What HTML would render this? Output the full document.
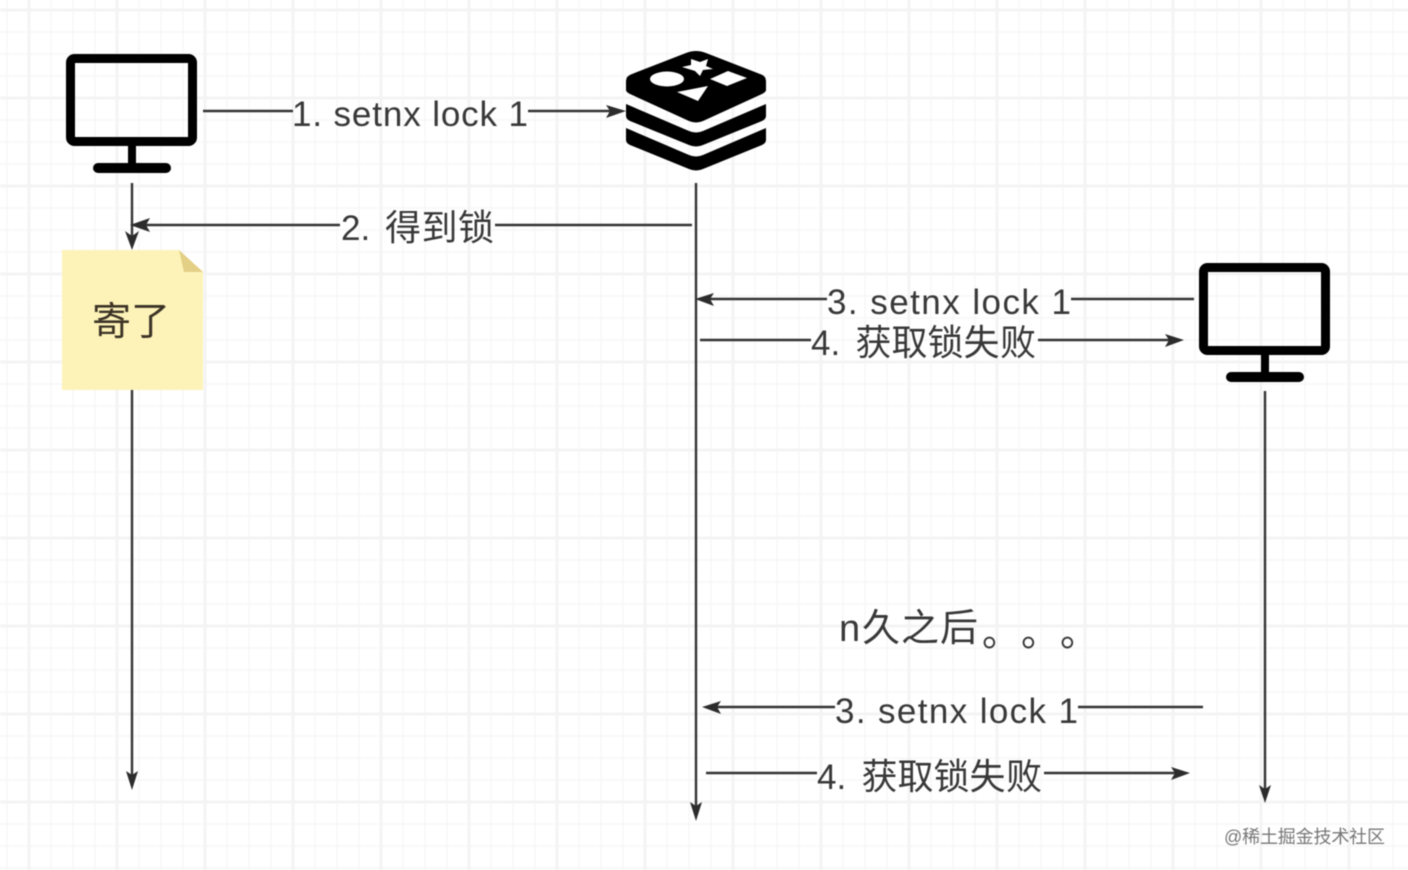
<!DOCTYPE html>
<html><head><meta charset="utf-8"><style>
html,body{margin:0;padding:0;background:#fff}
svg{display:block;filter:blur(0.45px)}
text{font-family:"Liberation Sans","Noto Sans CJK SC",sans-serif;fill:#383838}
</style></head><body>
<svg width="1408" height="870" viewBox="0 0 1408 870" xmlns="http://www.w3.org/2000/svg">
<defs>
<pattern id="minor" x="6" y="9" width="22" height="22" patternUnits="userSpaceOnUse"><path d="M1 0V22M0 1H22" stroke="#f8f8f8" stroke-width="2" fill="none"/></pattern>
<pattern id="major" x="27.5" y="8.5" width="88" height="88" patternUnits="userSpaceOnUse"><path d="M1.5 0V88M0 1.5H88" stroke="#f4f4f4" stroke-width="3" fill="none"/></pattern>
<g id="pc">
<rect x="4.5" y="4.5" width="122" height="83" rx="4" fill="none" stroke="#000" stroke-width="9"/>
<rect x="62" y="90" width="8" height="22" fill="#000"/>
<rect x="27" y="109" width="78" height="10" rx="5" fill="#000"/>
</g>
</defs>
<rect width="1408" height="870" fill="#fff"/>
<rect width="1408" height="870" fill="url(#minor)"/>
<rect width="1408" height="870" fill="url(#major)"/>

<use href="#pc" x="66" y="54"/>
<use href="#pc" x="1199" y="263"/>

<!-- redis -->
<g>
<path d="M626 128V140Q626 143 630 145L689 169Q696 172 703 169L762 145Q766 143 766 140V128L703 155Q696 158 689 155Z" fill="#000"/>
<path d="M626 104V116Q626 119 630 121L689 145Q696 148 703 145L762 121Q766 119 766 116V104L703 131Q696 134 689 131Z" fill="#000"/>
<path d="M632 74L686 53Q696 49 706 53L760 74Q766 76 766 81V90Q766 92 762 94L703 121Q696 124 689 121L630 94Q626 92 626 90V81Q626 76 632 74Z" fill="#000"/>
<ellipse cx="667" cy="79" rx="17" ry="7.5" fill="#fff"/>
<polygon points="691,59 700,62 708,59 706,66 713,69 703,70 700,76 695,71 682,67 691,65" fill="#fff"/>
<polygon points="728,71 747,78 727,86 710,79" fill="#fff"/>
<polygon points="677,92 708,86 698,101" fill="#fff"/>
</g>

<!-- note -->
<polygon points="62,250 179,250 203,272 203,390 62,390" fill="#fdf3b8"/>
<polygon points="179,250 203,272 184,272" fill="#e4cf86"/>
<text x="92" y="335" font-size="39" style="fill:#3c3326">寄了</text>

<!-- lines -->
<g stroke="#333" stroke-width="2.4" fill="none">
<path d="M203 111H293M528 111H612"/>
<path d="M132 183V236"/>
<path d="M692 225H495M340 225H146"/>
<path d="M132 390V776"/>
<path d="M696 183V806"/>
<path d="M1194 299H1071M827 299H710"/>
<path d="M700 340H811M1038 340H1171"/>
<path d="M1265 391V790"/>
<path d="M1203 707H1078M835 707H717"/>
<path d="M706 773H817M1044 773H1176"/>
</g>
<g fill="#2c2c2c">
<polygon points="626,111 606,105 610,111 606,118"/>
<polygon points="132,250 125,231 132,236 139,231"/>
<polygon points="130,225 150,218 146,225 150,232"/>
<polygon points="132,790 126,771 132,775 138,771"/>
<polygon points="696,821 690,802 696,806 702,802"/>
<polygon points="695,299 714,293 710,299 714,306"/>
<polygon points="1184,340 1165,334 1169,340 1165,347"/>
<polygon points="1265,803 1259,785 1265,789 1271,785"/>
<polygon points="702,707 721,701 717,707 721,714"/>
<polygon points="1190,773 1171,767 1175,773 1171,780"/>
</g>

<!-- labels -->
<g font-size="35">
<text x="292" y="126" textLength="236">1. setnx lock 1</text>
<text y="240"><tspan x="341">2.</tspan><tspan font-size="36" x="385 421.5 458">得到锁</tspan></text>
<text x="827" y="314" textLength="244">3. setnx lock 1</text>
<text y="355"><tspan x="811">4.</tspan><tspan font-size="36" x="855.5 891.5 927.5 963.5 1000">获取锁失败</tspan></text>
<text y="641" font-size="38"><tspan x="839">n</tspan><tspan x="862 901 940">久之后</tspan></text>
<text y="646" font-size="38" x="982 1021 1060">。。。</text>
<text x="835" y="723" textLength="243">3. setnx lock 1</text>
<text y="789"><tspan x="817">4.</tspan><tspan font-size="36" x="861.5 897.5 933.5 969.5 1006">获取锁失败</tspan></text>
</g>
<text x="1224" y="843" font-size="18" textLength="161" style="fill:#777">@稀土掘金技术社区</text>
</svg>
</body></html>
